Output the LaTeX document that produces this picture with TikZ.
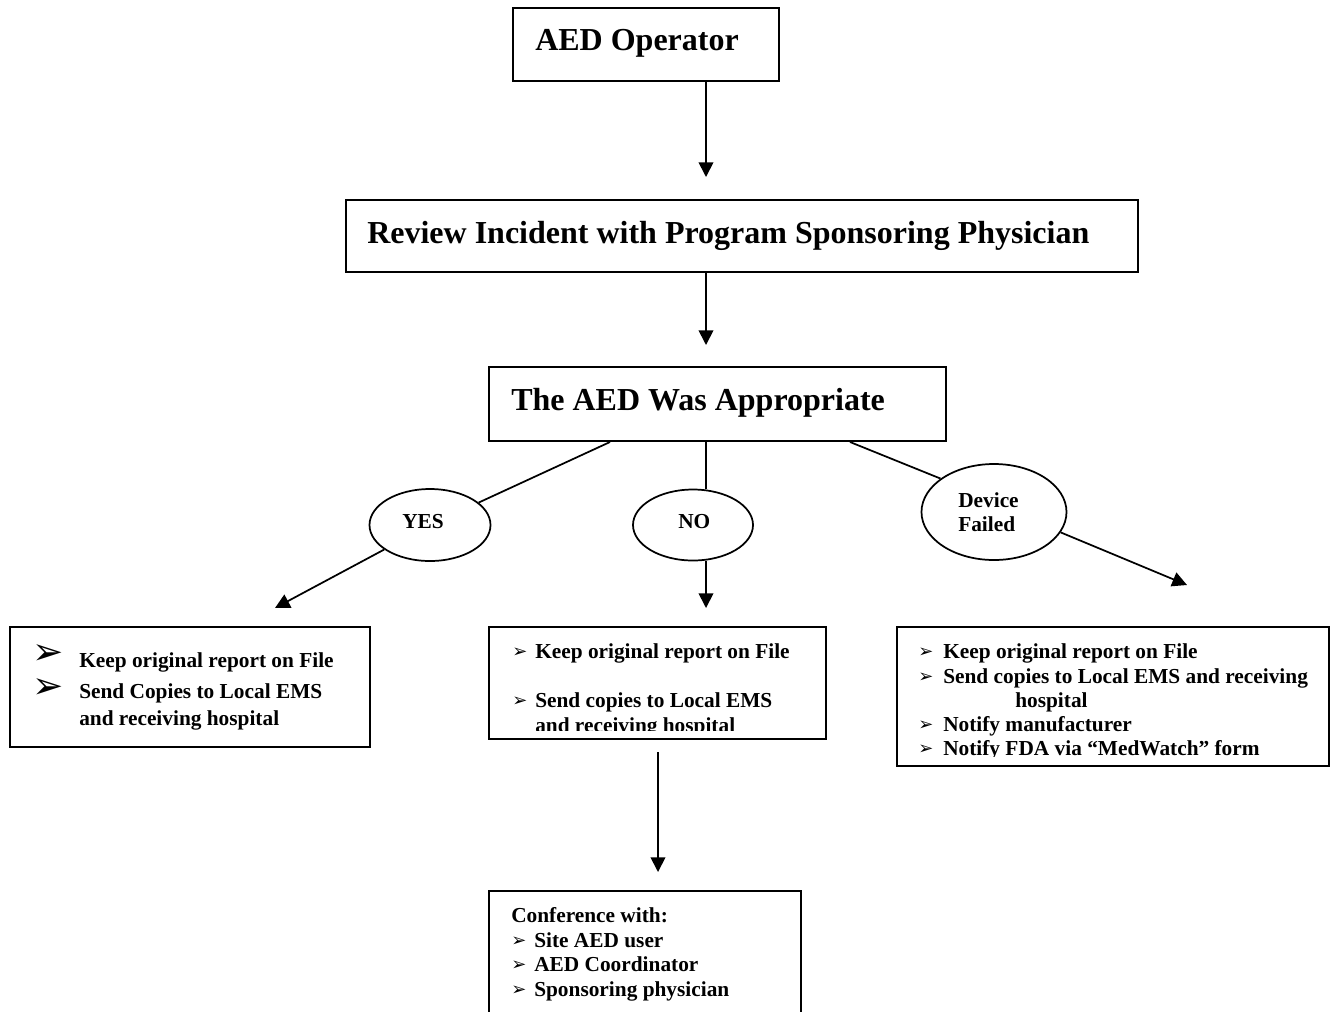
\documentclass[tikz,border=0pt]{standalone}
\usepackage{fontspec}
\setmainfont{Liberation Serif}
\newfontfamily\dingfont{DejaVu Sans}
\usetikzlibrary{arrows.meta,shapes.geometric}
\begin{document}
\begin{tikzpicture}[x=0.75pt,y=-0.75pt,
 box/.style={draw, line width=1.5pt, rectangle, inner sep=0pt},
 oval/.style={draw, ellipse, line width=1.3pt, inner sep=0pt},
 conn/.style={line width=1.3pt},
 arr/.style={line width=1.3pt, -{Triangle[length=11pt,width=11pt]}},
 big/.style={font=\fontsize{24}{28}\selectfont\bfseries, anchor=base west, inner sep=0pt},
 small/.style={font=\fontsize{16}{19}\selectfont\bfseries, anchor=base west, inner sep=0pt},
 bul/.style={font=\dingfont\fontsize{13.5}{14}\selectfont, anchor=base west, inner sep=0pt},
 bigbul/.style={font=\dingfont\fontsize{28}{30}\selectfont, anchor=base west, inner sep=0pt},
]
\useasboundingbox (0,0) rectangle (1330,1011);

% boxes
\node[box, minimum width=199.5pt, minimum height=54.75pt] (op) at (646,44.5) {};
\node[box, minimum width=594pt, minimum height=54pt] (rv) at (742,236) {};
\node[box, minimum width=342.75pt, minimum height=55.5pt] (ap) at (717.5,404) {};
\node[box, minimum width=270pt, minimum height=90pt] (lb) at (190,687) {};
\node[box, minimum width=252.75pt, minimum height=84pt] (mb) at (657.5,683) {};
\node[box, minimum width=324pt, minimum height=104.25pt] (rb) at (1113,696.5) {};
\node[box, minimum width=234pt, minimum height=100pt] (cb) at (645,958) {};

% ellipses
\node[oval, minimum width=90.75pt, minimum height=54pt] (yes) at (430,525) {};
\node[oval, minimum width=90pt, minimum height=53.25pt] (no) at (693,525) {};
\node[oval, minimum width=108.75pt, minimum height=72pt] (dev) at (994,512) {};

% titles
\node[big] (opt) at (535,50.5) {AED Operator};
\node[big] (rvt) at (367,243) {Review Incident with Program Sponsoring Physician};
\node[big] (apt) at (511,410) {The AED Was Appropriate};

% ellipse labels
\node[small] (yest) at (402,528) {YES};
\node[small] (not) at (678,528) {NO};
\node[small] (devt1) at (958,507) {Device};
\node[small] (devt2) at (958,531) {Failed};

% left box
\node[bigbul] (lb1) at (32,664) {➢};
\node[bigbul] (lb2) at (32,698) {➢};
\node[small] (l1) at (79,667) {Keep original report on File};
\node[small] (l2) at (79,698) {Send Copies to Local EMS};
\node[small] (l3) at (79,725) {and receiving hospital};

% middle box
\node[bul] (mb1) at (512,657) {➢};
\node[bul] (mb2) at (512,706) {➢};
\node[small] (m1) at (535,658) {Keep original report on File};
\node[small] (m2) at (535,707) {Send copies to Local EMS};
\begin{scope}
\clip (489,715) rectangle (826,730);
\node[small] (m3) at (535,732) {and receiving hospital};
\end{scope}

% right box
\node[bul] (rb1) at (918,657) {➢};
\node[bul] (rb2) at (918,682) {➢};
\node[bul] (rb3) at (918,730) {➢};
\node[bul] (rb4) at (918,754) {➢};
\node[small] (r1) at (943,658) {Keep original report on File};
\node[small] (r2) at (943,683) {Send copies to Local EMS and receiving};
\node[small] (r3) at (1015,707) {hospital};
\node[small] (r4) at (943,731) {Notify manufacturer};
\begin{scope}
\clip (897,738) rectangle (1329,756);
\node[small] (r5) at (943,755) {Notify FDA via “MedWatch” form};
\end{scope}

% conference box
\node[small] (c0) at (511,922) {Conference with:};
\node[bul] (cb1) at (511,946) {➢};
\node[bul] (cb2) at (511,970) {➢};
\node[bul] (cb3) at (511,995) {➢};
\node[small] (c1) at (534,947) {Site AED user};
\node[small] (c2) at (534,971) {AED Coordinator};
\node[small] (c3) at (534,996) {Sponsoring physician};

% coordinates
\coordinate (spine) at (706,0);
\coordinate (t1) at (706,177);
\coordinate (t2) at (706,345);
\coordinate (t3) at (706,608);
\coordinate (yl) at (610,0);
\coordinate (dl) at (850,0);
\coordinate (t4) at (275,608);
\coordinate (t5) at (1187,585);
\coordinate (t6s) at (658,752);
\coordinate (t6e) at (658,872);

% connectors
\draw[arr] (op.south -| t1) -- (t1);
\draw[arr] (rv.south -| t2) -- (t2);
\draw[conn] (ap.south -| spine) -- (no.north -| spine);
\draw[arr] (no.south -| spine) -- (t3);
\draw[conn] (ap.south -| yl) -- (yes);
\draw[arr] (yes) -- (t4);
\draw[conn] (ap.south -| dl) -- (dev.148);
\draw[arr] (dev.-17) -- (t5);
\draw[arr] (t6s) -- (t6e);
\end{tikzpicture}
\end{document}
